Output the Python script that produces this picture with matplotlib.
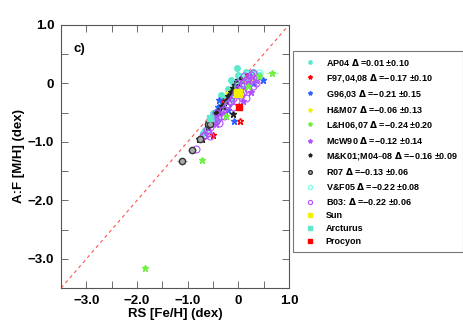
import matplotlib

matplotlib.use("Agg")
import matplotlib.pyplot as plt
from matplotlib.ticker import MultipleLocator

plt.rcParams["font.family"] = ["Liberation Sans", "DejaVu Sans"]
plt.rcParams["font.weight"] = "bold"

# ---- data ----
ap04_x = [-0.02, -0.15, -0.10, -0.05, -0.20, -0.25, -0.30, -0.40, -0.45, -0.55, -0.50, -0.60, -0.70,
          -0.35, 0.05, 0.10, 0.15, 0.25, -0.30, -0.65, -0.15, 0.00, 0.30, 0.40, -0.42]
ap04_y = [0.27, 0.05, 0.00, -0.05, -0.10, -0.30, -0.35, -0.45, -0.55, -0.65, -0.50, -0.72, -0.85,
          -0.20, 0.10, 0.05, 0.20, 0.15, -0.25, -0.80, -0.25, 0.15, 0.20, 0.15, -0.62]
f97_x = [0.20, -0.50, 0.03, -0.30, 0.10]
f97_y = [0.14, -0.89, -0.64, -0.30, 0.05]
g96_x = [0.48, -0.08, -0.38, -0.40, 0.30, -0.20]
g96_y = [0.06, -0.64, -0.28, -0.40, 0.00, -0.45]
hm07_x = [-0.21, 0.25]
hm07_y = [-0.16, 0.10]
lh06_x = [-1.85, -0.71, 0.66, -0.25, 0.20, 0.40]
lh06_y = [-3.15, -1.31, 0.17, -0.55, -0.05, 0.12]
lh06_xerr = [0.0, 0.0, 0.12, 0.0, 0.0, 0.0]
mcw90_x = [0.25, 0.35, -0.10, -0.30, 0.10, 0.05, -0.45, 0.20]
mcw90_y = [-0.15, 0.05, -0.20, -0.50, -0.30, -0.10, -0.70, 0.00]
mk01_x = [-0.77, -0.72, -0.45, -0.40, -0.30, -0.25, -0.20, -0.15, -0.10, -0.07, -0.03, 0.00, 0.03,
          -0.10, -0.33, -0.60]
mk01_y = [-0.95, -0.95, -0.50, -0.47, -0.38, -0.30, -0.22, -0.15, -0.08, -0.02, 0.02, 0.05, 0.08,
          -0.52, -0.38, -0.75]
r07_x = [-1.11, -0.91, -0.75, -0.60, -0.55]
r07_y = [-1.32, -1.14, -0.95, -0.70, -0.70]
r07_xerr = [0.10, 0.08, 0.08, 0.06, 0.06]
vf05_x = [0.05, 0.20, 0.10, -0.05, 0.30, 0.35, 0.40, -0.20, 0.00, 0.15]
vf05_y = [0.10, 0.00, -0.10, -0.20, 0.10, 0.15, 0.18, -0.35, -0.05, 0.15]
b03_x = [-0.83, -0.70, -0.65, -0.60, -0.55, -0.62, -0.50, -0.45, -0.40, -0.35, -0.38, -0.30, -0.25,
         -0.28, -0.20, -0.15, -0.10, -0.05, 0.00, 0.05, 0.10, 0.15, 0.20, 0.25, 0.30, 0.35, 0.05,
         0.10, 0.20, 0.25, 0.30, -0.10, -0.45, -0.55, 0.15, 0.00, -0.05, 0.30, 0.12]
b03_y = [-1.13, -0.90, -0.88, -0.85, -0.90, -0.80, -0.60, -0.65, -0.60, -0.55, -0.68, -0.45, -0.40,
         -0.55, -0.35, -0.30, -0.25, -0.15, -0.10, -0.05, 0.00, 0.05, 0.10, 0.05, 0.10, 0.00, -0.20,
         -0.15, -0.10, 0.15, -0.05, -0.40, -0.50, -0.75, -0.25, 0.00, -0.30, 0.18, 0.12]
sun_x, sun_y = [0.00], [-0.17]
arcturus_x, arcturus_y = [-0.55], [-0.60]
procyon_x, procyon_y = [0.01], [-0.40]

labels = [
    "AP04 $\\Delta$ =0.01 \u00b10.10",
    "F97,04,08 $\\Delta$ =\u22120.17 \u00b10.10",
    "G96,03 $\\Delta$ =\u22120.21 \u00b10.15",
    "H&M07 $\\Delta$ =\u22120.06 \u00b10.13",
    "L&H06,07 $\\Delta$ =\u22120.24 \u00b10.20",
    "McW90 $\\Delta$ =\u22120.12 \u00b10.14",
    "M&K01;M04\u201308 $\\Delta$ =\u22120.16 \u00b10.09",
    "R07 $\\Delta$ =\u22120.13 \u00b10.06",
    "V&F05 $\\Delta$ =\u22120.22 \u00b10.08",
    "B03: $\\Delta$ =\u22120.22 \u00b10.06",
    "Sun",
    "Arcturus",
    "Procyon",
]

aqua = "#5ee8cc"
purple = "#b050ff"

fig = plt.figure(figsize=(4.63, 3.24), dpi=100)
ax = fig.add_axes([0.132, 0.111, 0.492, 0.812])

ax.plot([-3.5, 1.0], [-3.5, 1.0], ls=(0, (3, 3)), color="#ff5050", lw=0.8, zorder=1)

h = []
h.append(ax.plot(ap04_x, ap04_y, "o", ms=4, color=aqua, mec=aqua, ls="none")[0])
h.append(ax.plot(f97_x, f97_y, "*", ms=5, mfc="none", mec="red", ls="none")[0])
h.append(ax.plot(g96_x, g96_y, "*", ms=5, color="#3060ff", ls="none")[0])
h.append(ax.plot(hm07_x, hm07_y, "*", ms=5, color="#f0f020", ls="none")[0])
h.append(ax.errorbar(lh06_x, lh06_y, xerr=lh06_xerr, fmt="*", ms=5, color="#70f040",
                     ecolor="#b0f0a0", elinewidth=0.8)[0])
h.append(ax.plot(mcw90_x, mcw90_y, "*", ms=5, color=purple, ls="none")[0])
h.append(ax.plot(mk01_x, mk01_y, "*", ms=4.5, color="#222222", ls="none")[0])
h.append(ax.errorbar(r07_x, r07_y, xerr=r07_xerr, fmt="o", ms=4.5, mfc="#aaaaaa", mec="#333333",
                     ecolor="#999999", elinewidth=0.8)[0])
h.append(ax.plot(vf05_x, vf05_y, "o", ms=5, mfc="none", mec="#80ffe8", ls="none")[0])
h.append(ax.plot(b03_x, b03_y, "o", ms=5, mfc="none", mec=purple, mew=0.8, ls="none")[0])
h.append(ax.plot(sun_x, sun_y, "s", ms=6, color="#f0f000", ls="none", zorder=5)[0])
h.append(ax.plot(arcturus_x, arcturus_y, "s", ms=4.5, color=aqua, ls="none", zorder=5)[0])
h.append(ax.plot(procyon_x, procyon_y, "s", ms=4.5, color="red", ls="none", zorder=5)[0])

ax.set_xlim(-3.5, 1.0)
ax.set_ylim(-3.5, 1.0)
ax.xaxis.set_minor_locator(MultipleLocator(0.5))
ax.yaxis.set_minor_locator(MultipleLocator(0.5))
ax.set_xticks([-3, -2, -1, 0, 1])
ax.set_xticklabels(["\u22123.0", "\u22122.0", "\u22121.0", "0", "1.0"])
ax.set_yticks([-3, -2, -1, 0, 1])
ax.set_yticklabels(["\u22123.0", "\u22122.0", "\u22121.0", "0", "1.0"])
ax.tick_params(which="both", direction="in", top=True, right=True, color="#555555",
               labelsize=9.5, pad=5)
ax.tick_params(which="major", length=5, width=0.6)
ax.tick_params(which="minor", length=5, width=0.6)
for s in ax.spines.values():
    s.set_color("#555555")
    s.set_linewidth(0.8)

ax.set_xlabel("RS [Fe/H] (dex)", fontsize=9.5, fontweight="bold", labelpad=1)
ax.set_ylabel("A:F [M/H] (dex)", fontsize=9.5, fontweight="bold", labelpad=2)
ax.text(-3.13, 0.59, "c)", fontsize=9.5, fontweight="bold", ha="center", va="center")

leg = fig.legend(h, labels, loc="upper left", bbox_to_anchor=(0.633, 0.842), fontsize=6.5,
                 frameon=True, fancybox=False, edgecolor="#555555", handlelength=2.6,
                 handletextpad=0.4, labelspacing=0.45, borderpad=0.6, markerscale=0.6,
                 borderaxespad=0)
leg.get_frame().set_linewidth(0.8)

fig.savefig("out.png", dpi=100)
